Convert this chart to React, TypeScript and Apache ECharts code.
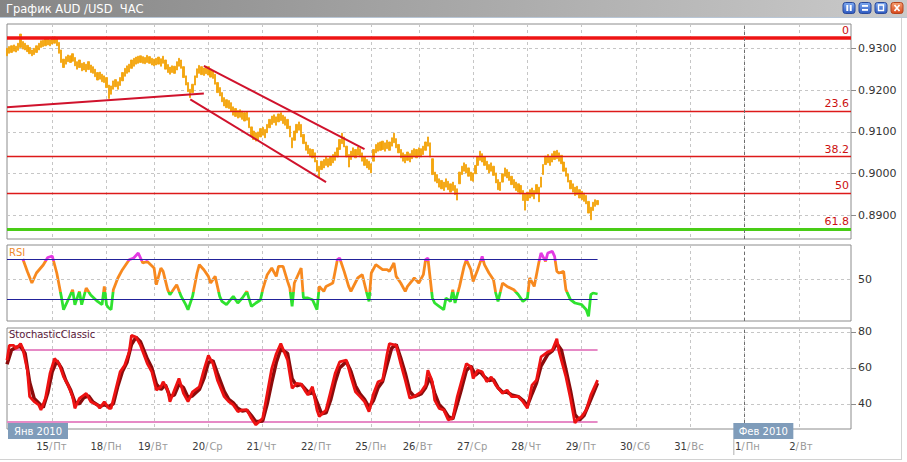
import React, { useEffect, useRef } from 'react';
import * as echarts from 'echarts';

const F = "'DejaVu Sans', Verdana, sans-serif";
const HOURS = 374;

// x axis: hour index of each day start, with its label parts
const dayStartHours = [20, 44, 65, 89, 113, 137, 161, 182, 206, 230, 254, 278, 302, 326, 350];
const dayNumbers = ['15', '18', '19', '20', '21', '22', '25', '26', '27', '28', '29', '30', '31', '1', '2'];
const dayNames = ['Пт', 'Пн', 'Вт', 'Ср', 'Чт', 'Пт', 'Пн', 'Вт', 'Ср', 'Чт', 'Пт', 'Сб', 'Вс', 'Пн', 'Вт'];
const monthStartHours = [0, 321];
const monthLabels = ['Янв 2010', 'Фев 2010'];
const monthBoundaryHour = 326;

// hourly price bars (high / low)
const priceHigh = [
  0.9300, 0.9304, 0.9306, 0.9308, 0.9305, 0.9312, 0.9334, 0.9316, 0.9312, 0.9307,
  0.9302, 0.9296, 0.9300, 0.9306, 0.9312, 0.9318, 0.9319, 0.9322, 0.9324, 0.9320,
  0.9326, 0.9327, 0.9323, 0.9314, 0.9296, 0.9274, 0.9280, 0.9284, 0.9282, 0.9287,
  0.9278, 0.9268, 0.9272, 0.9264, 0.9266, 0.9262, 0.9268, 0.9260, 0.9256, 0.9250,
  0.9242, 0.9243, 0.9238, 0.9234, 0.9230, 0.9212, 0.9210, 0.9222, 0.9225, 0.9220,
  0.9230, 0.9242, 0.9252, 0.9258, 0.9262, 0.9272, 0.9276, 0.9279, 0.9281, 0.9282,
  0.9280, 0.9278, 0.9283, 0.9280, 0.9276, 0.9274, 0.9276, 0.9279, 0.9275, 0.9281,
  0.9272, 0.9261, 0.9255, 0.9258, 0.9257, 0.9268, 0.9276, 0.9272, 0.9256, 0.9234,
  0.9218, 0.9202, 0.9214, 0.9234, 0.9251, 0.9259, 0.9256, 0.9253, 0.9257, 0.9256,
  0.9250, 0.9247, 0.9238, 0.9218, 0.9206, 0.9194, 0.9182, 0.9177, 0.9175, 0.9170,
  0.9160, 0.9156, 0.9151, 0.9153, 0.9150, 0.9146, 0.9148, 0.9134, 0.9112, 0.9102,
  0.9098, 0.9100, 0.9108, 0.9111, 0.9106, 0.9118, 0.9130, 0.9138, 0.9141, 0.9136,
  0.9143, 0.9146, 0.9140, 0.9136, 0.9130, 0.9114, 0.9086, 0.9102, 0.9118, 0.9124,
  0.9118, 0.9094, 0.9076, 0.9068, 0.9060, 0.9058, 0.9050, 0.9032, 0.9018, 0.9030,
  0.9034, 0.9040, 0.9036, 0.9040, 0.9046, 0.9052, 0.9062, 0.9082, 0.9097, 0.9088,
  0.9066, 0.9046, 0.9054, 0.9062, 0.9058, 0.9064, 0.9060, 0.9050, 0.9040, 0.9034,
  0.9030, 0.9024, 0.9058, 0.9070, 0.9074, 0.9076, 0.9078, 0.9074, 0.9080, 0.9076,
  0.9086, 0.9097, 0.9084, 0.9070, 0.9058, 0.9050, 0.9046, 0.9052, 0.9048, 0.9056,
  0.9060, 0.9058, 0.9062, 0.9060, 0.9066, 0.9076, 0.9088, 0.9074, 0.9036, 0.9004,
  0.8998, 0.8988, 0.8984, 0.8980, 0.8988, 0.8982, 0.8976, 0.8980, 0.8972, 0.8964,
  0.9004, 0.9018, 0.9026, 0.9022, 0.9014, 0.9004, 0.9002, 0.9020, 0.9040, 0.9054,
  0.9048, 0.9040, 0.9030, 0.9022, 0.9026, 0.9018, 0.9002, 0.8986, 0.8980, 0.9000,
  0.9014, 0.9010, 0.9004, 0.8994, 0.8986, 0.8980, 0.8976, 0.8972, 0.8960, 0.8952,
  0.8956, 0.8962, 0.8966, 0.8960, 0.8974, 0.8968, 0.8992, 0.9022, 0.9042, 0.9046,
  0.9040, 0.9048, 0.9054, 0.9056, 0.9050, 0.9044, 0.9028, 0.9014, 0.9000, 0.8984,
  0.8976, 0.8968, 0.8970, 0.8962, 0.8958, 0.8954, 0.8948, 0.8934, 0.8920, 0.8932,
  0.8938, 0.8936,
];
const priceLow = [
  0.9282, 0.9288, 0.9290, 0.9293, 0.9291, 0.9295, 0.9302, 0.9298, 0.9296, 0.9292,
  0.9287, 0.9282, 0.9285, 0.9290, 0.9296, 0.9302, 0.9304, 0.9306, 0.9308, 0.9306,
  0.9310, 0.9312, 0.9306, 0.9288, 0.9266, 0.9254, 0.9262, 0.9268, 0.9266, 0.9269,
  0.9258, 0.9250, 0.9254, 0.9246, 0.9248, 0.9244, 0.9249, 0.9242, 0.9240, 0.9232,
  0.9224, 0.9226, 0.9220, 0.9218, 0.9206, 0.9180, 0.9190, 0.9202, 0.9208, 0.9202,
  0.9211, 0.9222, 0.9233, 0.9240, 0.9243, 0.9252, 0.9257, 0.9262, 0.9264, 0.9266,
  0.9264, 0.9263, 0.9266, 0.9264, 0.9260, 0.9258, 0.9260, 0.9262, 0.9257, 0.9264,
  0.9250, 0.9242, 0.9238, 0.9242, 0.9240, 0.9248, 0.9257, 0.9252, 0.9230, 0.9212,
  0.9196, 0.9182, 0.9194, 0.9212, 0.9230, 0.9240, 0.9237, 0.9235, 0.9239, 0.9236,
  0.9231, 0.9228, 0.9214, 0.9194, 0.9186, 0.9172, 0.9162, 0.9158, 0.9156, 0.9150,
  0.9140, 0.9137, 0.9133, 0.9135, 0.9130, 0.9126, 0.9128, 0.9110, 0.9090, 0.9082,
  0.9078, 0.9081, 0.9088, 0.9092, 0.9086, 0.9098, 0.9110, 0.9118, 0.9122, 0.9116,
  0.9124, 0.9127, 0.9120, 0.9116, 0.9108, 0.9088, 0.9062, 0.9080, 0.9098, 0.9104,
  0.9088, 0.9072, 0.9056, 0.9048, 0.9040, 0.9038, 0.9028, 0.9006, 0.8992, 0.9010,
  0.9014, 0.9020, 0.9016, 0.9020, 0.9026, 0.9032, 0.9040, 0.9058, 0.9072, 0.9064,
  0.9040, 0.9016, 0.9034, 0.9042, 0.9038, 0.9044, 0.9040, 0.9030, 0.9020, 0.9014,
  0.9010, 0.9002, 0.9030, 0.9050, 0.9054, 0.9056, 0.9058, 0.9054, 0.9060, 0.9056,
  0.9066, 0.9074, 0.9062, 0.9050, 0.9038, 0.9030, 0.9026, 0.9032, 0.9028, 0.9036,
  0.9040, 0.9038, 0.9042, 0.9040, 0.9046, 0.9056, 0.9066, 0.9040, 0.8998, 0.8982,
  0.8978, 0.8968, 0.8964, 0.8960, 0.8968, 0.8962, 0.8956, 0.8960, 0.8950, 0.8937,
  0.8976, 0.8998, 0.9006, 0.9002, 0.8994, 0.8984, 0.8982, 0.9000, 0.9020, 0.9032,
  0.9028, 0.9020, 0.9010, 0.9002, 0.9006, 0.8996, 0.8978, 0.8962, 0.8960, 0.8980,
  0.8994, 0.8990, 0.8984, 0.8974, 0.8966, 0.8960, 0.8956, 0.8952, 0.8936, 0.8913,
  0.8936, 0.8942, 0.8946, 0.8940, 0.8954, 0.8933, 0.8968, 0.8998, 0.9022, 0.9026,
  0.9020, 0.9028, 0.9034, 0.9036, 0.9030, 0.9024, 0.9006, 0.8994, 0.8980, 0.8964,
  0.8956, 0.8948, 0.8950, 0.8942, 0.8938, 0.8934, 0.8928, 0.8906, 0.8890, 0.8912,
  0.8922, 0.8926,
];

// Fibonacci retracement levels
const fibLevels = [0.9324, 0.9149, 0.9041, 0.8954, 0.8867];
const fibLabels = ['0', '23.6', '38.2', '50', '61.8'];

// trend lines (hour, price)
const trendStartHour = [0, 87, 81];
const trendStartPrice = [0.9159, 0.9258, 0.9178];
const trendEndHour = [87, 158, 141];
const trendEndPrice = [0.9192, 0.9059, 0.8980];

// RSI readings [hour, value]
const rsiPoints = [
  [7, 70], [9, 57.6], [11, 46], [13, 56], [16, 64], [18, 71.5], [20, 73], [22, 56], [24, 32.6], [25, 19.3],
  [27, 29], [29, 39.3], [30, 24.3], [32, 37.6], [33, 24.3], [35, 41], [37, 34], [40, 27.6], [42, 24.3], [43, 42.6],
  [44, 24], [45, 21], [46, 19.3], [47, 39.3], [49, 51], [51, 59.3], [54, 69.3], [56, 71], [58, 76], [60, 66],
  [62, 67.6], [65, 61], [66, 44.3], [68, 61], [69, 57.6], [71, 39.3], [72, 34.3], [74, 41], [75, 44.3], [77, 32.6],
  [79, 24.3], [80, 19.3], [82, 32.6], [84, 56], [85, 64.3], [87, 59.3], [89, 52.6], [90, 46], [92, 52.6], [94, 32.6],
  [95, 27.6], [97, 24.3], [100, 32.6], [102, 26], [104, 31], [106, 37.6], [108, 22.6], [110, 26], [112, 29], [113, 39.3],
  [115, 54.3], [117, 61], [119, 52.6], [120, 62.6], [122, 62.6], [124, 47.6], [125, 41], [126, 22.6], [127, 46], [129, 56],
  [130, 61], [131, 31], [133, 31], [135, 29.3], [137, 19.3], [138, 42.6], [140, 37.6], [141, 42.6], [144, 46], [145, 57.6],
  [146, 69.3], [147, 71], [149, 57.6], [151, 42.6], [152, 37.6], [155, 51], [157, 54.3], [159, 36], [160, 27.6], [161, 56],
  [163, 64.3], [166, 59.3], [168, 59.3], [169, 57.6], [171, 66], [172, 52.6], [174, 46], [176, 37.6], [177, 42.6], [180, 51],
  [182, 46], [184, 54.3], [185, 69.3], [186, 71], [188, 31], [189, 26], [191, 22.6], [193, 19.3], [194, 31], [196, 27.6],
  [197, 39.3], [198, 26], [200, 42.6], [202, 62.6], [203, 69.3], [205, 59.3], [206, 47.6], [208, 59.3], [210, 72.6], [211, 64.3],
  [213, 56], [215, 49.3], [216, 36], [217, 27.6], [219, 46], [221, 42.6], [224, 39.3], [226, 34.3], [228, 27.6], [230, 31],
  [231, 51], [233, 42.6], [234, 54.3], [235, 66], [236, 76], [238, 67.6], [239, 76], [241, 77.6], [242, 72.6], [243, 57.6],
  [244, 56], [246, 57.6], [247, 39.3], [249, 29.3], [251, 26], [254, 24.3], [256, 19.3], [257, 12.6], [258, 34.3], [259, 36],
  [261, 35],
];
const rsiLevels = [70, 30];

// Stochastic readings [hour, value]
const stochKPoints = [
  [0, 64.3], [1, 72.5], [3, 72.5], [4, 70.7], [6, 73.5], [7, 70.7], [9, 58.7], [10, 44], [12, 41.2], [14, 39.4],
  [15, 36.6], [17, 43.1], [19, 56.9], [21, 65.2], [23, 62.4], [25, 55], [27, 50.4], [29, 44], [30, 37.5], [32, 43.1],
  [34, 44.9], [35, 45.8], [37, 41.2], [40, 39.4], [41, 37.5], [43, 41.2], [45, 37.5], [46, 37.5], [48, 47.7], [50, 57.8],
  [52, 61.5], [54, 68.9], [55, 78.1], [57, 77.1], [59, 72.5], [62, 62.4], [64, 57.8], [66, 47.7], [68, 49.5], [69, 52.3],
  [71, 47.7], [72, 41.2], [74, 47.7], [76, 54.1], [78, 45.8], [80, 41.2], [82, 46.7], [85, 49.5], [87, 58.7], [89, 67],
  [91, 62.4], [93, 53.2], [96, 44], [98, 41.2], [100, 39.4], [102, 35.7], [104, 36.6], [106, 36.6], [108, 32], [110, 28.3],
  [113, 32], [115, 45.8], [117, 59.6], [119, 67.9], [121, 73.5], [124, 64.3], [126, 48.6], [128, 51.4], [130, 51], [132, 46.7],
  [133, 44.9], [135, 49.5], [137, 36.6], [138, 33], [141, 36.6], [143, 46.7], [145, 56.9], [147, 63.3], [150, 64.3], [152, 55],
  [154, 46.7], [156, 44], [158, 41.2], [160, 35.7], [162, 45.8], [164, 52.3], [166, 53.2], [168, 67.9], [169, 73.5], [172, 72.5],
  [174, 62.4], [176, 53.2], [178, 43.1], [180, 44], [183, 46.7], [185, 50.4], [186, 58.7], [188, 52.3], [189, 42.1], [191, 37.5],
  [193, 36.6], [195, 31.1], [197, 32], [199, 44], [201, 53.2], [203, 62.4], [205, 60.6], [206, 54.1], [208, 58.7], [210, 57.8],
  [212, 52.3], [214, 55], [216, 50.4], [219, 45.8], [221, 47.7], [223, 44], [226, 44], [228, 41.2], [230, 37.5], [232, 50.4],
  [234, 53.2], [236, 66.1], [239, 68.9], [241, 69.8], [243, 76.2], [244, 68.9], [247, 55.1], [249, 43.1], [251, 29.4], [252, 31.1],
  [254, 33], [256, 36.6], [258, 44.9], [260, 50.4], [261, 53.2],
];
const stochDPoints = [
  [0, 62], [2, 70], [4, 71.5], [6, 72], [8, 68], [10, 52], [12, 43], [14, 40.5], [16, 38], [18, 46],
  [20, 58], [22, 64], [24, 60], [26, 53], [28, 48], [30, 41], [32, 40], [34, 43.5], [36, 44.5], [38, 41],
  [41, 38.5], [43, 39.5], [45, 38.5], [47, 40], [49, 50], [51, 58], [53, 63], [55, 73], [57, 77], [59, 74.5],
  [62, 65], [64, 60], [66, 51], [68, 48], [70, 50.5], [72, 44], [74, 45], [76, 51], [78, 49], [80, 43.5],
  [82, 44.5], [85, 48], [87, 54], [89, 63], [91, 64], [93, 57], [96, 47], [98, 42.5], [100, 40.5], [102, 37.5],
  [104, 36], [106, 36.5], [108, 33.5], [110, 30], [113, 30.5], [115, 40], [117, 52], [119, 63], [121, 70.5], [124, 68],
  [126, 54], [128, 50], [130, 50.8], [132, 48], [134, 45.5], [135, 47.5], [137, 41], [139, 34.5], [141, 35], [143, 42],
  [145, 52], [147, 60], [150, 63.5], [152, 58], [154, 50], [156, 45.5], [158, 42.5], [160, 38], [162, 42], [164, 49],
  [166, 52.5], [168, 62], [170, 71], [172, 73], [174, 65.5], [176, 57], [178, 47], [180, 44], [183, 45.5], [185, 49],
  [187, 55], [189, 46], [191, 39.5], [193, 37], [195, 33], [197, 31.5], [199, 40], [201, 49], [203, 58.5], [205, 61],
  [207, 56], [209, 58], [211, 55], [213, 53], [215, 53.5], [217, 49], [219, 46.5], [221, 46.5], [223, 45], [226, 44],
  [228, 42], [230, 39], [232, 45.5], [234, 51.5], [236, 61], [239, 67.5], [241, 69.5], [243, 73.5], [245, 70], [247, 59],
  [249, 47.5], [251, 34], [253, 31], [255, 33.5], [257, 39.5], [259, 45.5], [261, 51.5],
];
const stochLevels = [70, 30];

const hourCats = Array.from({ length: HOURS }, (_, i) => String(i));
const daySet = new Set(dayStartHours);
const lastHour = priceHigh.length - 1;

const gridLine = { color: '#c6c6c6', type: [3, 3], width: 1 };
const monthLine = { color: '#6e6e6e', type: [3, 3], width: 1 };

function baseX(gridIndex: number) {
  return {
    gridIndex,
    type: 'category',
    position: 'bottom',
    data: hourCats,
    boundaryGap: false,
    axisLine: { show: false },
    axisTick: { show: false },
    axisLabel: { show: false },
    splitLine: { show: true, interval: (i: number) => daySet.has(i), lineStyle: gridLine },
  };
}

export default function App() {
  const ref = useRef<HTMLDivElement>(null);

  useEffect(() => {
    document.body.style.margin = '0';
    if (!ref.current) return;
    const chart = echarts.init(ref.current, null, { renderer: 'svg' });

    const bars = priceHigh.map((h, i) => [priceLow[i], h, priceLow[i], h]);

    const fibItems = fibLevels.map((lv, i) => ({
      yAxis: lv,
      lineStyle: i === 0
        ? { color: '#ee1414', width: 3.5, type: 'solid' }
        : i === fibLevels.length - 1
          ? { color: '#49cc16', width: 3, type: 'solid' }
          : { color: '#dd1a1a', width: 1.4, type: 'solid' },
      label: {
        show: true, position: 'insideEndTop', formatter: fibLabels[i], color: '#cc1010',
        fontSize: 11, fontFamily: F, distance: 2,
      },
    }));
    const trendItems = trendStartHour.map((h, i) => [
      { coord: [h, trendStartPrice[i]], lineStyle: { color: '#d0122c', width: 2, type: 'solid' } },
      { coord: [trendEndHour[i], trendEndPrice[i]] },
    ]);

    const option: any = {
      animation: false,
      textStyle: { fontFamily: F },
      grid: [
        { left: 7, top: 24, width: 844, height: 215, show: true, borderColor: '#8c8c8c', borderWidth: 1 },
        { left: 7, top: 245, width: 844, height: 76, show: true, borderColor: '#8c8c8c', borderWidth: 1 },
        { left: 7, top: 328, width: 844, height: 101, show: true, borderColor: '#8c8c8c', borderWidth: 1 },
      ],
      xAxis: [
        baseX(0),
        baseX(1),
        {
          ...baseX(2),
          axisLabel: {
            show: true, interval: (i: number) => daySet.has(i), margin: 12, align: 'right',
            formatter: (v: string) => {
              const k = dayStartHours.indexOf(Number(v));
              return `{d|${dayNumbers[k]}}{s|/}`;
            },
            rich: {
              d: { color: '#3a3a3a', fontSize: 10, fontFamily: F },
              s: { color: '#9a9a9a', fontSize: 10, fontFamily: F },
            },
          },
        },
        {
          ...baseX(2),
          splitLine: { show: false },
          axisLabel: {
            show: true, interval: (i: number) => daySet.has(i), margin: 12, align: 'left',
            formatter: (v: string) => {
              const k = dayStartHours.indexOf(Number(v));
              return `{w|${dayNames[k]}}`;
            },
            rich: { w: { color: '#9a9a9a', fontSize: 10, fontFamily: F, padding: [0, 0, 0, 1] } },
          },
        },
      ],
      yAxis: [
        {
          gridIndex: 0, type: 'value', position: 'right', min: 0.8844, max: 0.9358, splitNumber: 5,
          axisLine: { show: false },
          axisTick: { show: true, length: 5, lineStyle: { color: '#8c8c8c' } },
          axisLabel: {
            margin: 7, color: '#333', fontSize: 11, fontFamily: F, showMinLabel: false, showMaxLabel: false,
            formatter: (v: number) => v.toFixed(4),
          },
          splitLine: { show: true, showMinLine: false, showMaxLine: false, lineStyle: gridLine },
        },
        {
          gridIndex: 1, type: 'value', position: 'right', min: 8, max: 84,
          axisLine: { show: false }, axisTick: { show: false }, axisLabel: { show: false }, splitLine: { show: false },
        },
        {
          gridIndex: 2, type: 'value', position: 'right', min: 26, max: 82.2, splitNumber: 3,
          axisLine: { show: false },
          axisTick: { show: true, length: 5, lineStyle: { color: '#8c8c8c' } },
          axisLabel: { margin: 7, color: '#333', fontSize: 11, fontFamily: F, showMinLabel: false, showMaxLabel: false },
          splitLine: { show: true, showMinLine: false, showMaxLine: false, lineStyle: gridLine },
        },
      ],
      visualMap: [
        {
          type: 'piecewise', show: false, seriesIndex: 1, dimension: 1,
          pieces: [
            { lt: 37, color: '#2fe22f' },
            { gte: 37, lte: 68, color: '#f7891f' },
            { gt: 68, color: '#e33ae3' },
          ],
        },
      ],
      series: [
        {
          type: 'candlestick', xAxisIndex: 0, yAxisIndex: 0, data: bars, barWidth: 1.8,
          itemStyle: { color: '#f5a60e', color0: '#f5a60e', borderColor: '#f2a000', borderColor0: '#f2a000', borderWidth: 0.8 },
          markLine: {
            symbol: 'none', silent: true, precision: 4, label: { show: false },
            data: [...fibItems, { xAxis: monthBoundaryHour, lineStyle: monthLine }, ...trendItems],
          },
        },
        {
          type: 'line', xAxisIndex: 1, yAxisIndex: 1, data: rsiPoints, symbol: 'none', showSymbol: false,
          lineStyle: { width: 2.8 }, z: 3,
          markLine: {
            symbol: 'none', silent: true, precision: 2, label: { show: false },
            data: [
              ...rsiLevels.map((lv) => [
                { coord: [0, lv], lineStyle: { color: '#22229a', width: 1.2, type: 'solid' } },
                { coord: [lastHour, lv] },
              ]),
              {
                yAxis: 50, lineStyle: gridLine,
                label: { show: true, position: 'end', formatter: '50', color: '#333', fontSize: 11, fontFamily: F, distance: 7 },
              },
              { xAxis: monthBoundaryHour, lineStyle: monthLine },
            ],
          },
        },
        {
          type: 'line', xAxisIndex: 2, yAxisIndex: 2, data: stochDPoints, symbol: 'none', showSymbol: false,
          lineStyle: { width: 3.5, color: '#8a0c0c' }, itemStyle: { color: '#8a0c0c' }, z: 3,
          markLine: {
            symbol: 'none', silent: true, precision: 2, label: { show: false }, z: 1,
            data: [
              ...stochLevels.map((lv) => [
                { coord: [0, lv], lineStyle: { color: '#e68ac6', width: 2, type: 'solid' } },
                { coord: [lastHour, lv] },
              ]),
              { xAxis: monthBoundaryHour, lineStyle: monthLine },
            ],
          },
        },
        {
          type: 'line', xAxisIndex: 2, yAxisIndex: 2, data: stochKPoints, symbol: 'none', showSymbol: false,
          lineStyle: { width: 2.8, color: '#ee1212' }, itemStyle: { color: '#ee1212' }, z: 4,
        },
      ],
    };

    chart.setOption(option);

    const monthX = monthStartHours.map((h) => chart.convertToPixel({ xAxisIndex: 2 }, h) as number);

    const grad = (c1: string, c2: string, horiz = false) =>
      new echarts.graphic.LinearGradient(0, 0, horiz ? 1 : 0, horiz ? 0 : 1, [
        { offset: 0, color: c1 },
        { offset: 1, color: c2 },
      ]);

    const g: any[] = [
      { type: 'rect', z: 100, shape: { x: 0, y: 0, width: 907, height: 17 }, style: { fill: grad('#858585', '#cacaca', true) } },
      { type: 'line', z: 100, shape: { x1: 0, y1: 17.5, x2: 907, y2: 17.5 }, style: { stroke: '#b8c6d6', lineWidth: 1 } },
      {
        type: 'text', z: 101, x: 6, y: 9,
        style: { text: 'График AUD /USD\u00a0 ЧАС', fill: '#ffffff', font: `11.5px ${F}`, verticalAlign: 'middle' },
      },
      { type: 'line', z: 100, shape: { x1: 0, y1: 459.5, x2: 902, y2: 459.5 }, style: { stroke: '#d2d2d2', lineWidth: 1 } },
      { type: 'line', z: 100, shape: { x1: 901.5, y1: 18, x2: 901.5, y2: 459.5 }, style: { stroke: '#d2d2d2', lineWidth: 1 } },
      { type: 'text', z: 101, x: 9, y: 252, style: { text: 'RSI', fill: '#f08a2c', font: `10px ${F}`, verticalAlign: 'middle' } },
      {
        type: 'text', z: 101, x: 9, y: 334,
        style: { text: 'StochasticClassic', fill: '#5a1838', font: `10px ${F}`, verticalAlign: 'middle' },
      },
    ];

    const btnX = [843, 859, 875, 891];
    btnX.forEach((bx, k) => {
      const close = k === 3;
      g.push({
        type: 'rect', z: 101, shape: { x: bx, y: 2.5, width: 12, height: 11, r: 2.5 },
        style: {
          fill: close ? grad('#f6a070', '#d8461a') : grad('#7eaaf0', '#2c58c0'),
          stroke: close ? '#b5431c' : '#28489a', lineWidth: 1,
        },
      });
      if (k === 0) {
        g.push({ type: 'rect', z: 102, shape: { x: bx + 3.3, y: 5, width: 2, height: 6 }, style: { fill: '#fff' } });
        g.push({ type: 'rect', z: 102, shape: { x: bx + 6.7, y: 5, width: 2, height: 6 }, style: { fill: '#fff' } });
      } else if (k === 1) {
        g.push({ type: 'rect', z: 102, shape: { x: bx + 3, y: 5, width: 6, height: 1.8 }, style: { fill: '#fff' } });
        g.push({ type: 'rect', z: 102, shape: { x: bx + 3, y: 9, width: 6, height: 1.8 }, style: { fill: '#fff' } });
      } else if (k === 2) {
        g.push({ type: 'rect', z: 102, shape: { x: bx + 3.5, y: 5, width: 5, height: 5.5 }, style: { fill: 'none', stroke: '#fff', lineWidth: 1.4 } });
      } else {
        g.push({ type: 'line', z: 102, shape: { x1: bx + 3.5, y1: 5, x2: bx + 8.5, y2: 11 }, style: { stroke: '#fff', lineWidth: 1.7 } });
        g.push({ type: 'line', z: 102, shape: { x1: bx + 8.5, y1: 5, x2: bx + 3.5, y2: 11 }, style: { stroke: '#fff', lineWidth: 1.7 } });
      }
    });

    monthX.forEach((mx, i) => {
      const left = i === 0 ? mx + 1 : mx;
      g.push({ type: 'rect', z: 110, shape: { x: left, y: 423, width: 60, height: 16 }, style: { fill: '#7f9cba' } });
      g.push({
        type: 'text', z: 111, x: left + 30, y: 431.5,
        style: { text: monthLabels[i], fill: '#ffffff', font: `10px ${F}`, align: 'center', verticalAlign: 'middle' },
      });
      if (i > 0) {
        g.push({ type: 'line', z: 110, shape: { x1: left + 0.5, y1: 439, x2: left + 0.5, y2: 455 }, style: { stroke: '#b0b0b0', lineWidth: 1 } });
      }
    });

    chart.setOption({ graphic: g });

    return () => chart.dispose();
  }, []);

  return <div ref={ref} style={{ width: 907, height: 462 }} />;
}
